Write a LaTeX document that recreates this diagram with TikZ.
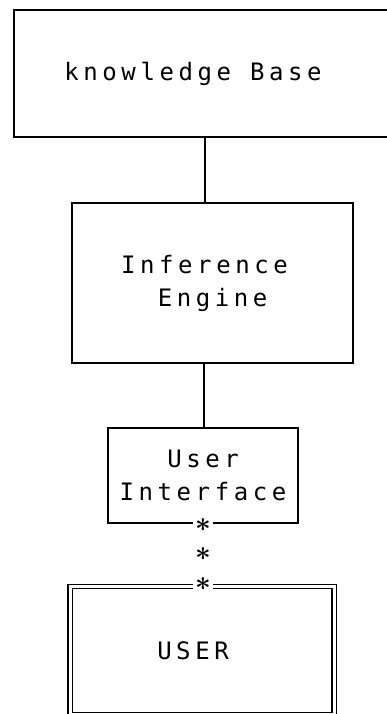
\documentclass[tikz,border=0pt]{standalone}
\usepackage{fontspec}
\usetikzlibrary{positioning,calc}
\newfontfamily\plotfont[LetterSpace=19]{DejaVu Sans Mono}

\begin{document}
\begin{tikzpicture}[
        x=1pt, y=-1pt,
        box/.style={
            draw=black,
            line width=1.4pt,
            rectangle,
            align=center,
            inner sep=0pt,
            font=\plotfont\fontsize{24}{33}\selectfont
        },
        userbox/.style={
            box,
            double,
            double distance=3pt,
            line width=1.2pt
        },
        starmark/.style={
            fill=white,
            inner xsep=2pt,
            inner ysep=0pt,
            scale=1.1,
            font=\Huge\boldmath
        },
        link/.style={line width=1.4pt}
    ]
        \useasboundingbox (0,0) rectangle (386,714);
        \node[box, minimum width=378pt, minimum height=127pt] (kb) at (203,73.5) {knowledge Base\hspace*{20pt}};
        \node[box, minimum width=281pt, minimum height=160pt] (ie) at (212.5,283) {Inference\hspace*{16pt}\\Engine};
        \node[box, minimum width=190pt, minimum height=95pt] (ui) at (203,475.5) {User\\Interface};
        \node[userbox, minimum width=264pt, minimum height=128pt] (user) at (202,650.5) {USER\hspace*{18pt}};
        \draw[link] ([xshift=2pt]kb.south) -- ([xshift=2pt]kb.south |- ie.north);
        \draw[link] ([xshift=1pt]ui.north) -- ([xshift=1pt]ui.north |- ie.south);
        \node[starmark] (s1) at ([yshift=-1pt]ui.south) {$\ast$};
        \node[starmark] (s3) at ([xshift=1pt,yshift=2pt]user.north) {$\ast$};
        \node[starmark] (s2) at ($(s1)!0.5!(s3)$) {$\ast$};
    \end{tikzpicture}
\end{document}
